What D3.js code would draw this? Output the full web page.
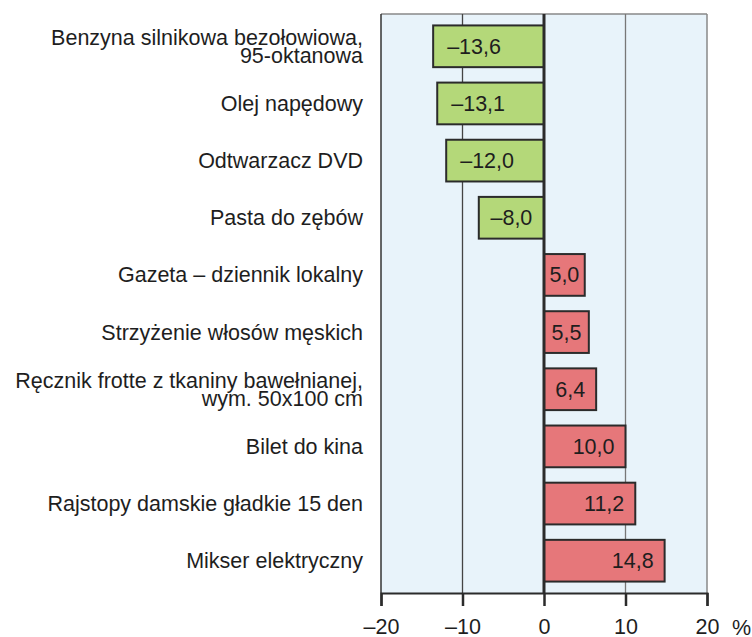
<!DOCTYPE html>
<html>
<head>
<meta charset="utf-8">
<script src="https://cdn.jsdelivr.net/npm/d3@7"></script>
<style>
  html, body { margin: 0; padding: 0; background: #fff; overflow: hidden; }
  svg { display: block; }
  text { font-family: "Liberation Sans", Arial, sans-serif; fill: #1e1e1e; }
</style>
</head>
<body>
<svg width="752" height="637"></svg>
<script>
const categories = [
  'Benzyna silnikowa bezołowiowa,\n95-oktanowa',
  'Olej napędowy',
  'Odtwarzacz DVD',
  'Pasta do zębów',
  'Gazeta – dziennik lokalny',
  'Strzyżenie włosów męskich',
  'Ręcznik frotte z tkaniny bawełnianej,\nwym. 50x100 cm',
  'Bilet do kina',
  'Rajstopy damskie gładkie 15 den',
  'Mikser elektryczny'
];
const values = [-13.6, -13.1, -12.0, -8.0, 5.0, 5.5, 6.4, 10.0, 11.2, 14.8];
const tickValues = [-20, -10, 0, 10, 20];

const svg = d3.select('svg');
const margin = { top: 14, left: 381, right: 45, bottom: 44 };
const width = +svg.attr('width');
const height = +svg.attr('height');
const innerWidth = width - margin.left - margin.right;
const innerHeight = height - margin.top - margin.bottom;

const data = categories.map((c, i) => ({ cat: c, v: values[i] }));

const xScale = d3.scaleLinear().domain([-20, 20]).range([0, innerWidth]);
const yScale = d3.scaleBand()
  .domain(categories)
  .range([0, innerHeight])
  .paddingInner(0.27)
  .paddingOuter(0.2);

const fmt = v => (v < 0 ? '\u2013' : '') + Math.abs(v).toFixed(1).replace('.', ',');

const g = svg.append('g').attr('transform', `translate(${margin.left},${margin.top})`);

// plot background
g.append('rect')
  .attr('width', innerWidth).attr('height', innerHeight)
  .attr('fill', '#e8f3fa');

// top and right frame
g.append('line').attr('x1', 0).attr('x2', innerWidth).attr('y1', 0).attr('y2', 0)
  .attr('stroke', '#888').attr('stroke-width', 1.5);
g.append('line').attr('x1', innerWidth).attr('x2', innerWidth).attr('y1', 0).attr('y2', innerHeight)
  .attr('stroke', '#888').attr('stroke-width', 1.5);

// grid lines at -10 and 10
g.selectAll('.grid').data([-10, 10]).enter().append('line')
  .attr('class', 'grid')
  .attr('x1', d => xScale(d)).attr('x2', d => xScale(d))
  .attr('y1', 0).attr('y2', innerHeight)
  .attr('stroke', d => d < 0 ? '#444' : '#777').attr('stroke-width', 1.3);

// left frame
g.append('line').attr('x1', 0).attr('x2', 0).attr('y1', 0).attr('y2', innerHeight)
  .attr('stroke', '#333').attr('stroke-width', 1.5);

// bars
g.selectAll('.bar').data(data).enter().append('rect')
  .attr('class', 'bar')
  .attr('x', d => xScale(Math.min(0, d.v)))
  .attr('y', d => yScale(d.cat))
  .attr('width', d => Math.abs(xScale(d.v) - xScale(0)))
  .attr('height', yScale.bandwidth())
  .attr('fill', d => d.v < 0 ? '#b4d879' : '#e6777a')
  .attr('stroke', '#2b2b2b').attr('stroke-width', 2);

// zero line
g.append('line').attr('x1', xScale(0)).attr('x2', xScale(0)).attr('y1', 0).attr('y2', innerHeight)
  .attr('stroke', '#2b2b2b').attr('stroke-width', 3);

// value labels: pushed toward the outer end of the bar
g.selectAll('.val').data(data).enter().append('text')
  .attr('class', 'val')
  .attr('y', d => yScale(d.cat) + yScale.bandwidth() / 2)
  .attr('dy', '0.35em')
  .attr('font-size', 21.5)
  .text(d => fmt(d.v))
  .each(function(d) {
    const w = this.getComputedTextLength();
    const x0 = xScale(Math.min(0, d.v));
    const x1 = xScale(Math.max(0, d.v));
    const mid = (x0 + x1) / 2;
    let start;
    if (d.v > 0) start = Math.max(mid - w / 2, x1 - 11 - w);
    else start = Math.min(mid - w / 2, x0 + 14);
    d3.select(this).attr('x', start);
  });

// category labels
const labels = g.selectAll('.cat').data(data).enter().append('text')
  .attr('class', 'cat')
  .attr('text-anchor', 'end')
  .attr('font-size', 21.5)
  .attr('transform', d => `translate(-18,${yScale(d.cat) + yScale.bandwidth() / 2})`);
labels.each(function(d) {
  const lines = d.cat.split('\n');
  const lh = 18;
  const t = d3.select(this);
  lines.forEach((l, i) => {
    t.append('tspan').attr('x', 0)
      .attr('y', (i - (lines.length - 1) / 2) * lh)
      .attr('dy', '0.35em')
      .text(l);
  });
});

// x axis
const xAxis = d3.axisBottom(xScale).tickValues(tickValues).tickSize(13).tickPadding(13)
  .tickFormat(d => d < 0 ? '\u2013' + Math.abs(d) : d);
const ax = g.append('g').attr('transform', `translate(0,${innerHeight})`).call(xAxis);
ax.select('.domain').attr('stroke', '#2b2b2b').attr('stroke-width', 2);
ax.selectAll('.tick line').attr('stroke', '#2b2b2b').attr('stroke-width', 2.5);
ax.selectAll('.tick text').attr('font-size', 21.5).attr('fill', '#1e1e1e')
  .attr('font-family', '"Liberation Sans", Arial, sans-serif');

g.append('text')
  .attr('x', innerWidth + 25).attr('y', innerHeight + 42)
  .attr('font-size', 21.5)
  .text('%');
</script>
</body>
</html>
